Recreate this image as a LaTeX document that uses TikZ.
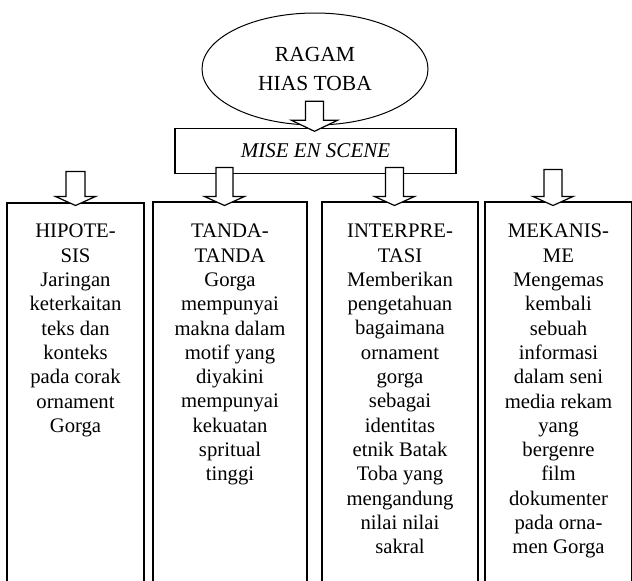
\documentclass[tikz,border=0pt]{standalone}
\usepackage{fontspec}
\setmainfont{Liberation Serif}
\usetikzlibrary{calc,shapes.geometric}
\newcommand\blkarrow[5]{%
  \draw[blk] ($(#1)+(-#4,-#2)$) -- ++(2*#4,0) -- ++(0,#2-#3) -- ++(#5-#4,0) -- (#1) -- ++(-#5,-#3) -- ++(#5-#4,0) -- cycle;}
\begin{document}
\begin{tikzpicture}[x=1pt,y=-1pt,
  colbox/.style={draw=none, minimum height=400pt, inner sep=0, anchor=north},
  sides/.style={line width=1.7pt},
  txt/.style={font=\fontsize{20.7}{24.3}\selectfont, align=center, inner sep=0, anchor=north},
  blk/.style={draw, fill=white, line width=1.2pt, line join=miter}]
\useasboundingbox (0,0) rectangle (632,581);
\clip (0,0) rectangle (632,581);
% top ellipse
\node[ellipse, draw, line width=1pt, minimum width=226pt, minimum height=112pt, inner sep=0,
      align=center, font=\fontsize{21.5}{29}\selectfont] (ragam) at (315,69) {RAGAM\\HIAS TOBA};
% mise en scene box
\node[draw, line width=1.4pt, minimum width=281pt, minimum height=45pt, inner sep=0,
      font=\fontsize{21}{25}\selectfont\itshape] (mise) at (315.5,151) {MISE EN SCENE};
% columns
\node[colbox, minimum width=137pt] (c1) at (75.5,203) {};
\node[colbox, minimum width=154pt] (c2) at (230,202) {};
\node[colbox, minimum width=156pt] (c3) at (400,202) {};
\node[colbox, minimum width=147pt] (c4) at (558.5,202) {};
\foreach \c in {c1,c2,c3,c4}{\draw[sides] (\c.south west) |- (\c.north east) -- (\c.south east);}
% texts
\node[txt] (t1) at ($(c1.north)+(0,21)$) {HIPOTE-\\SIS\\Jaringan\\keterkaitan\\teks dan\\konteks\\pada corak\\ornament\\Gorga};
\node[txt] (t2) at ($(c2.north)+(0,22)$) {TANDA-\\TANDA\\Gorga\\mempunyai\\makna dalam\\motif yang\\diyakini\\mempunyai\\kekuatan\\spritual\\tinggi};
\node[txt] (t3) at ($(c3.north)+(0,22)$) {INTERPRE-\\TASI\\Memberikan\\pengetahuan\\bagaimana\\ornament\\gorga\\sebagai\\identitas\\etnik Batak\\Toba yang\\mengandung\\nilai nilai\\sakral};
\node[txt] (t4) at ($(c4.north)+(0,22)$) {MEKANIS-\\ME\\Mengemas\\kembali\\sebuah\\informasi\\dalam seni\\media rekam\\yang\\bergenre\\film\\dokumenter\\pada orna-\\men Gorga};
% block arrows
\coordinate (a0) at ($(mise.north)+(-1,3.5)$);
\coordinate (a1) at (75.5,205.5);
\coordinate (a2) at (224.5,205.5);
\coordinate (a3) at (394.5,205.5);
\coordinate (a4) at (553,205.5);
\blkarrow{a0}{30}{11}{9}{23}
\blkarrow{a1}{34}{9}{9.5}{20}
\blkarrow{a2}{38}{9}{8.5}{20}
\blkarrow{a3}{38}{9}{9}{20}
\blkarrow{a4}{36}{9}{9}{20}
\end{tikzpicture}
\end{document}
